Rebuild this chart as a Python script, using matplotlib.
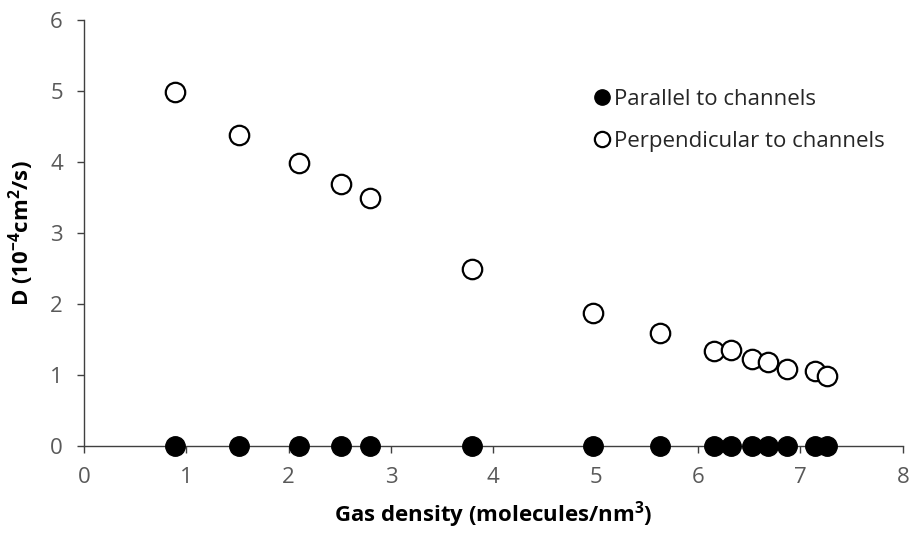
import matplotlib.pyplot as plt
from matplotlib.lines import Line2D

plt.rcParams["font.family"] = ["Open Sans", "DejaVu Sans"]
plt.rcParams["mathtext.fontset"] = "custom"
plt.rcParams["mathtext.rm"] = "Open Sans"
plt.rcParams["mathtext.bf"] = "Open Sans:bold"

# Gas density (molecules/nm^3)
density = [0.89, 1.52, 2.10, 2.51, 2.80, 3.79, 4.97, 5.63, 6.16, 6.32, 6.53, 6.68, 6.87, 7.14, 7.26]
# Diffusion coefficient (1e-4 cm^2/s)
d_parallel = [0.0] * len(density)
d_perpendicular = [4.98, 4.38, 3.99, 3.69, 3.49, 2.49, 1.88, 1.59, 1.34, 1.35, 1.23, 1.18, 1.08, 1.06, 0.99]

fig = plt.figure(figsize=(9.11, 5.35), dpi=100)
ax = fig.add_axes([0.092, 0.166, 0.899, 0.797])

ax.plot(density, d_parallel, "o", ms=14, mfc="black", mec="black", clip_on=False, zorder=3)
ax.plot(density, d_perpendicular, "o", ms=14, mfc="white", mec="black", mew=1.6, clip_on=False, zorder=3)

ax.set_xlim(0, 8)
ax.set_ylim(0, 6)
ax.set_xticks(range(0, 9))
ax.set_yticks(range(0, 7))
for s in ["top", "right"]:
    ax.spines[s].set_visible(False)
for s in ["left", "bottom"]:
    ax.spines[s].set_color("#404040")
    ax.spines[s].set_linewidth(1.0)
ax.tick_params(axis="both", labelsize=16, colors="#404040", length=5, width=1.0, pad=10)
ax.tick_params(axis="both", labelcolor="#595959")

ax.set_xlabel("Gas density (molecules/nm$\\mathbf{^3}$)", fontsize=16, fontweight="bold", labelpad=8)
ax.set_ylabel("D (10$\\mathbf{^{-4}}$cm$\\mathbf{^2}$/s)", fontsize=16, fontweight="bold", labelpad=10)

handles = [
    Line2D([], [], ls="none", marker="o", ms=11, mfc="black", mec="black"),
    Line2D([], [], ls="none", marker="o", ms=11, mfc="white", mec="black", mew=1.6),
]
ax.legend(handles, ["Parallel to channels", "Perpendicular to channels"],
          loc="upper left", bbox_to_anchor=(0.6, 0.885), frameon=False,
          fontsize=16, handlelength=0.6, handletextpad=0.25, labelspacing=0.95,
          labelcolor="#262626")

fig.savefig("out.png", dpi=100)
